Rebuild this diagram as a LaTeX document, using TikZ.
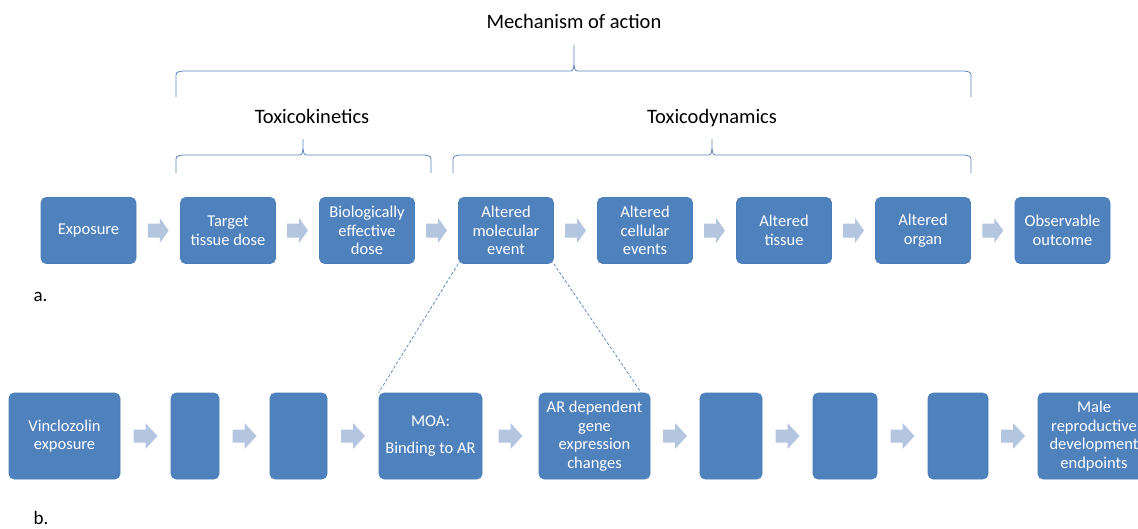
\documentclass[tikz,border=0pt]{standalone}
\usepackage{fontspec}
\setmainfont{Carlito}
\usetikzlibrary{calc}
\definecolor{boxblue}{HTML}{4F81BD}
\definecolor{boxedge}{HTML}{4A7EBA}
\definecolor{arrowfill}{HTML}{B4C5DF}
\definecolor{bracecol}{HTML}{5B86BF}
\begin{document}
\begin{tikzpicture}[x=1pt,y=-1pt,
  stepbox/.style={draw=boxedge, line width=0.6pt, fill=boxblue, rounded corners=5pt,
    text=white, align=center, inner sep=0pt,
    font=\fontsize{16.5}{18.6}\selectfont},
  toprow/.style={stepbox, minimum width=95pt, minimum height=66pt},
  botrow/.style={stepbox, minimum height=86pt},
  heading/.style={font=\fontsize{20.5}{22}\selectfont, text=black, anchor=base},
  panel/.style={font=\fontsize{19}{20}\selectfont, text=black, anchor=west},
  brace/.style={draw=bracecol, line width=0.8pt},
  zoomline/.style={draw=boxblue, line width=0.7pt, dash pattern=on 3pt off 2pt},
  smallarrow/.pic={\fill[arrowfill] (-10.5,-7) -- (1.5,-7) -- (1.5,-12.5) -- (10.5,0) -- (1.5,12.5) -- (1.5,7) -- (-10.5,7) -- cycle;},
  bigarrow/.pic={\fill[arrowfill] (-12,-6.5) -- (0,-6.5) -- (0,-13) -- (12,0) -- (0,13) -- (0,6.5) -- (-12,6.5) -- cycle;}
]
\useasboundingbox (0,0) rectangle (1138,528);
\clip (0,0) rectangle (1138,528);

% ---------- headings and braces ----------
\node[heading] (moa) at (574,28.5) {Mechanism of action};
\node[heading] (tk) at (312,123.5) {Toxicokinetics};
\node[heading] (td) at (712,123.5) {Toxicodynamics};

% brace: ends (x1,x2), bottom yb, bar y, tip (xt, yt)
\newcommand{\curlybrace}[6]{%
  \draw[brace] (#1,#3) -- (#1,#4+7) .. controls (#1,#4+1) .. (#1+7,#4)
    -- (#5-6,#4) .. controls (#5-1,#4) .. (#5,#4-6) -- (#5,#6);
  \draw[brace] (#2,#3) -- (#2,#4+7) .. controls (#2,#4+1) .. (#2-7,#4)
    -- (#5+6,#4) .. controls (#5+1,#4) .. (#5,#4-6);
}
\curlybrace{176}{971}{97}{71}{574}{45}
\curlybrace{176}{431}{173}{155}{303}{139}
\curlybrace{453}{971}{173}{155}{712}{139}

% ---------- row a ----------
\node[toprow] (a1) at (88.5,230.5) {Exposure};
\node[toprow] (a2) at (228,230.5) {Target\\tissue dose};
\node[toprow] (a3) at (367,230.5) {Biologically\\effective\\dose};
\node[toprow] (a4) at (506,230.5) {Altered\\molecular\\event};
\node[toprow] (a5) at (645,230.5) {Altered\\cellular\\events};
\node[toprow] (a6) at (784,230.5) {Altered\\tissue};
\node[toprow] (a7) at (923,230.5) {Altered\\organ};
\node[toprow] (a8) at (1062.5,230.5) {Observable\\outcome};
\foreach \p/\q in {a1/a2,a2/a3,a3/a4,a4/a5,a5/a6,a6/a7,a7/a8}
  \path ($(\p.east)!0.5!(\q.west)$) pic {smallarrow};
\node[panel] (la) at (30,297) {a.};

% ---------- row b ----------
\node[botrow, minimum width=111pt] (b1) at (64.5,436) {Vinclozolin\\exposure};
\node[botrow, minimum width=48pt] (b2) at (195,436) {};
\node[botrow, minimum width=57pt] (b3) at (298.5,436) {};
\node[botrow, minimum width=103pt] (b4) at (430.5,436) {MOA:\\[8pt]Binding to AR};
\node[botrow, minimum width=111pt] (b5) at (594.5,436) {AR dependent\\gene\\expression\\changes};
\node[botrow, minimum width=62pt] (b6) at (731,436) {};
\node[botrow, minimum width=64pt] (b7) at (845,436) {};
\node[botrow, minimum width=60pt] (b8) at (958,436) {};
\node[botrow, minimum width=112pt] (b9) at (1094,436) {Male\\reproductive\\development\\endpoints};
\foreach \p/\q in {b1/b2,b2/b3,b3/b4,b4/b5,b5/b6,b6/b7,b7/b8,b8/b9}
  \path ($(\p.east)!0.5!(\q.west)$) pic {bigarrow};
\node[panel] (lb) at (30,518) {b.};

% ---------- zoom-in lines ----------
\draw[zoomline] (a4.south west) -- (b4.north west);
\draw[zoomline] (a4.south east) -- ($(b5.north east)+(-9,0)$);
\end{tikzpicture}
\end{document}
